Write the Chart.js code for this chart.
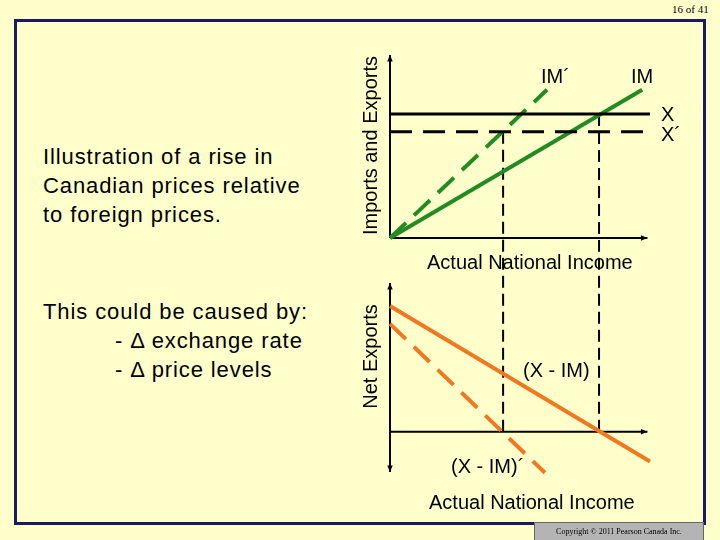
<!DOCTYPE html>
<html>
<head>
<meta charset="utf-8">
<script src="https://cdn.jsdelivr.net/npm/chart.js@4"></script>
<style>
  body { margin: 0; width: 720px; height: 540px; background: #ffffcc; position: relative; overflow: hidden; font-family: "Liberation Sans", Arial, sans-serif; }
  .abs { position: absolute; }
  #frame { left: 14px; top: 19px; width: 686px; height: 500px; border: 3px solid #1a1a5e; }
  .txt { font-size: 22px; color: #000; line-height: 29px; white-space: nowrap; letter-spacing: 0.9px; }
  .lbl { font-size: 20px; color: #000; white-space: nowrap; }
  .rot { transform: rotate(-90deg); transform-origin: center; text-align: center; font-size: 20px; white-space: nowrap; }
  canvas { position: absolute; }
</style>
</head>
<body>
<div class="abs" id="frame"></div>
<div class="abs" style="left:672px;top:3px;font-family:'Liberation Serif',serif;font-size:11px;font-weight:normal;">16 of 41</div>
<div class="abs txt" style="left:43px;top:142px;">Illustration of a rise in<br>Canadian prices relative<br>to foreign prices.</div>
<div class="abs txt" style="left:43px;top:297px;">This could be caused by:<br><span style="padding-left:72px">- Δ exchange rate</span><br><span style="padding-left:72px">- Δ price levels</span></div>
<canvas id="top" width="360" height="245" style="left:360px;top:0;"></canvas>
<canvas id="bot" width="360" height="295" style="left:360px;top:245px;"></canvas>
<div class="abs rot" style="left:270px;top:134px;width:200px;">Imports and Exports</div>
<div class="abs rot" style="left:270px;top:345px;width:200px;">Net Exports</div>
<div class="abs lbl" style="left:541px;top:65px;">IM´</div>
<div class="abs lbl" style="left:631px;top:65px;">IM</div>
<div class="abs lbl" style="left:661px;top:103px;">X</div>
<div class="abs lbl" style="left:661px;top:123px;">X´</div>
<div class="abs lbl" style="left:427px;top:251px;">Actual National Income</div>
<div class="abs lbl" style="left:523px;top:359px;">(X - IM)</div>
<div class="abs lbl" style="left:451px;top:455px;">(X - IM)´</div>
<div class="abs lbl" style="left:429px;top:491px;">Actual National Income</div>
<div class="abs" style="left:534px;top:522px;width:168px;height:18px;background:#b4b4b4;border:1px solid #666;font-family:'Liberation Serif',serif;font-size:8px;text-align:center;line-height:18px;">Copyright © 2011 Pearson Canada Inc.</div>
<script>
// income axis 0..100
const incomeEq = 80.4;       // where IM meets X
const incomeEqNew = 43.5;    // where IM' meets X'
const exportsX = [67.8, 67.8];
const exportsXnew = [58, 58];
const importsIM = [0, 81];
const importsIMnew = [0, 81];
const imEnds = [0, 97];
const imNewEnds = [0, 60.4];
const netX = [0, 100];
const netXM = [84.6, -20];
const netXnew = [0, 59.6];
const netXMnew = [72.5, -27.5];

const green = '#228b22', orange = '#f07820';

function pts(xs, ys) { return xs.map((x, i) => ({ x: x, y: ys[i] })); }

function arrow(ctx, x1, y1, x2, y2) {
  ctx.beginPath(); ctx.moveTo(x1, y1); ctx.lineTo(x2, y2); ctx.stroke();
  const a = Math.atan2(y2 - y1, x2 - x1);
  ctx.beginPath();
  ctx.moveTo(x2, y2);
  ctx.lineTo(x2 - 7 * Math.cos(a - 0.4), y2 - 7 * Math.sin(a - 0.4));
  ctx.lineTo(x2 - 7 * Math.cos(a + 0.4), y2 - 7 * Math.sin(a + 0.4));
  ctx.closePath(); ctx.fill();
}

const axesPlugin = {
  id: 'axes',
  beforeDatasetsDraw(chart, args, opts) {
    const ctx = chart.ctx, xs = chart.scales.x, ys = chart.scales.y;
    const x0 = xs.getPixelForValue(0), y0 = ys.getPixelForValue(0);
    ctx.save();
    ctx.strokeStyle = '#000'; ctx.fillStyle = '#000'; ctx.lineWidth = 2;
    arrow(ctx, x0, y0, xs.getPixelForValue(99), y0);
    arrow(ctx, x0, y0, x0, chart.chartArea.top);
    if (opts.both) arrow(ctx, x0, y0, x0, chart.chartArea.bottom);
    ctx.restore();
  }
};

function line(data, color, dash, width) {
  return { data: data, borderColor: color, borderWidth: width || 3, borderDash: dash || [], pointRadius: 0, clip: false, tension: 0, showLine: true };
}

const common = {
  animation: false, responsive: false,
  plugins: { legend: { display: false }, tooltip: { enabled: false } },
};

new Chart(document.getElementById('top'), {
  type: 'scatter',
  data: { datasets: [
    line(pts([0, 100], exportsX), '#000', [], 3),
    line(pts([0, 99], exportsXnew), '#000', [22, 11], 3),
    line(pts(imEnds, importsIM), green, [], 4),
    line(pts(imNewEnds, importsIMnew), green, [22, 11], 4),
    line(pts([incomeEqNew, incomeEqNew], [exportsXnew[0], -4]), '#000', [12, 6], 2),
    line(pts([incomeEq, incomeEq], [exportsX[0], -4]), '#000', [12, 6], 2)
  ] },
  options: Object.assign({}, common, {
    layout: { padding: { left: 30, top: 55, bottom: 7, right: 70 } },
    scales: {
      x: { type: 'linear', min: 0, max: 100, display: false },
      y: { type: 'linear', min: 0, max: 100, display: false }
    },
    plugins: Object.assign({}, common.plugins, { axes: { both: false } })
  }),
  plugins: [axesPlugin]
});

new Chart(document.getElementById('bot'), {
  type: 'scatter',
  data: { datasets: [
    line(pts(netX, netXM), orange, [], 4),
    line(pts(netXnew, netXMnew), orange, [22, 11], 4),
    line(pts([incomeEqNew, incomeEqNew], [0, 126]), '#000', [12, 6], 2),
    line(pts([incomeEq, incomeEq], [0, 126]), '#000', [12, 6], 2)
  ] },
  options: Object.assign({}, common, {
    layout: { padding: { left: 30, top: 38, bottom: 68, right: 70 } },
    scales: {
      x: { type: 'linear', min: 0, max: 100, display: false },
      y: { type: 'linear', min: -27, max: 100, display: false }
    },
    plugins: Object.assign({}, common.plugins, { axes: { both: true } })
  }),
  plugins: [axesPlugin]
});
</script>
</body>
</html>
